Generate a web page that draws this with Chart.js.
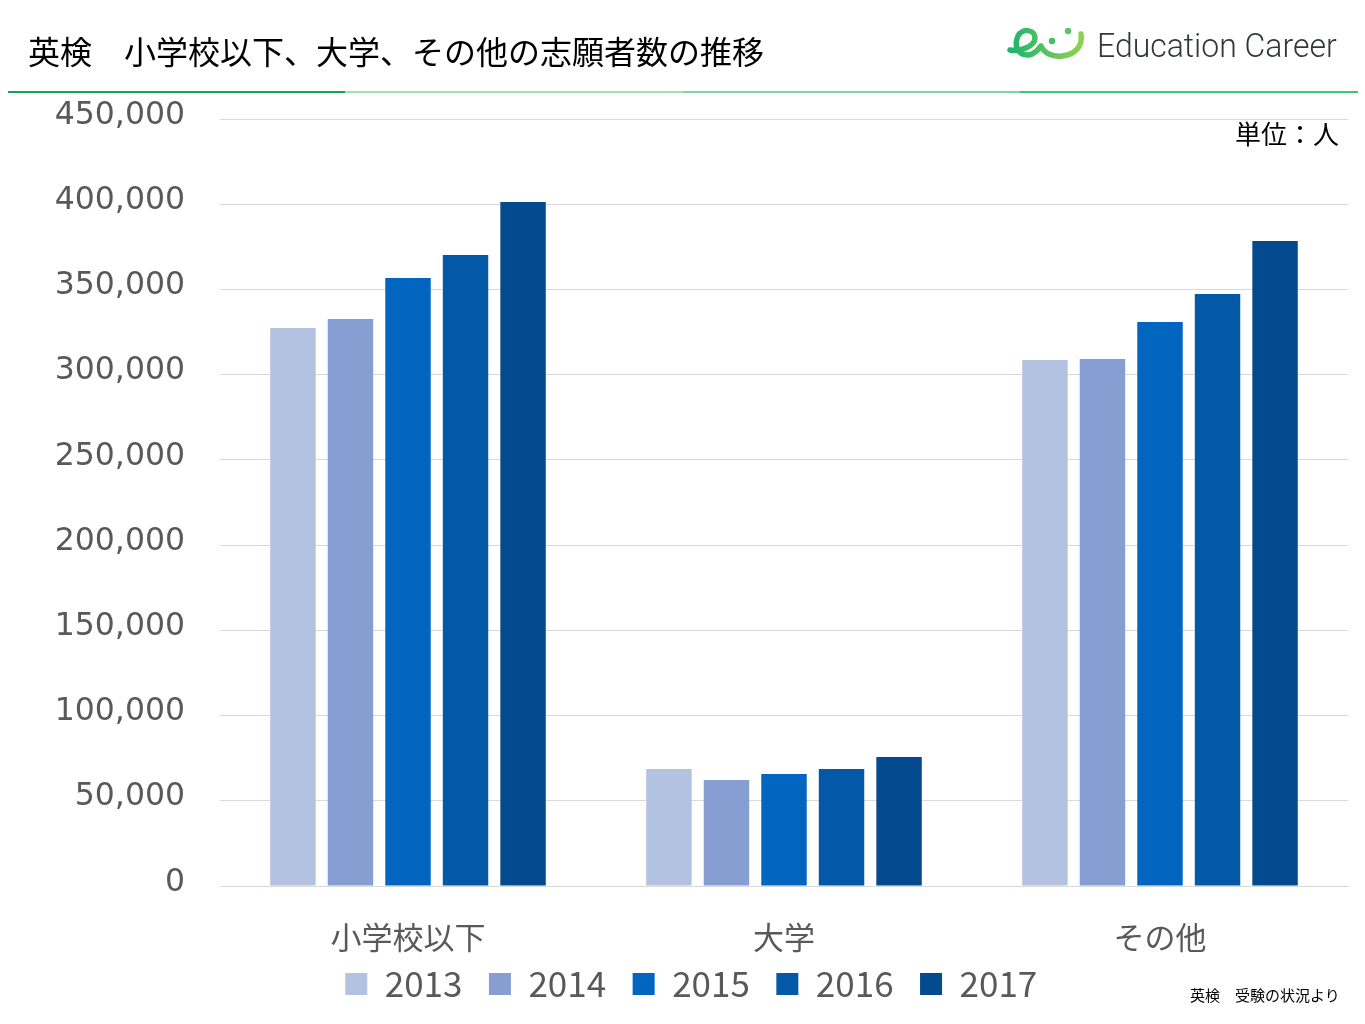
<!DOCTYPE html>
<html>
<head>
<meta charset="utf-8">
<script src="https://cdn.jsdelivr.net/npm/chart.js@4.4.1/dist/chart.umd.min.js"></script>
<style>
  html, body { margin: 0; padding: 0; background: #fff; width: 1365px; height: 1024px; overflow: hidden; position: relative; }
  #title { position: absolute; left: 28px; top: 28px; font-family: "Noto Sans CJK JP", sans-serif; font-size: 32px; color: #000; white-space: nowrap; line-height: 44px; }
  #rule { position: absolute; left: 8px; top: 91px; width: 1350px; height: 2px;
    background: linear-gradient(to right, #17a352 0%, #17a352 25%, #a3dfb9 25%, #a3dfb9 50%, #80d3a2 50%, #80d3a2 75%, #3cc877 75%, #3cc877 100%); }
  #logoText { position: absolute; left: 1097px; top: 23px; font-family: Roboto, sans-serif; font-weight: 300; font-size: 34px; color: #33363b; white-space: nowrap; line-height: 44px; transform-origin: 0 50%; transform: scaleX(0.94); }
  #logo { position: absolute; left: 1000px; top: 18px; }
  #unit { position: absolute; left: 1235px; top: 116px; font-family: "Noto Sans CJK JP", sans-serif; font-size: 26px; color: #000; white-space: nowrap; line-height: 34px; }
  #source { position: absolute; left: 1190px; top: 985px; font-family: "Noto Sans CJK JP", sans-serif; font-size: 15px; color: #000; white-space: nowrap; line-height: 20px; }
  #wrap { position: absolute; left: 0; top: 0; width: 1365px; height: 1024px; }
</style>
</head>
<body>
<div id="wrap"><canvas id="c"></canvas></div>
<div id="title">英検　小学校以下、大学、その他の志願者数の推移</div>
<div id="rule"></div>
<svg id="logo" width="90" height="50" viewBox="0 0 90 50">
  <defs>
    <linearGradient id="g" x1="0" y1="0" x2="1" y2="0">
      <stop offset="0" stop-color="#1db46f"/>
      <stop offset="1" stop-color="#8fd14f"/>
    </linearGradient>
  </defs>
  <path d="M 10 32 C 18 34, 35 29, 35 20 C 35 11, 22 10, 18 18 C 14 27, 17 37, 28 37 C 34 37, 38 32, 41 28 C 44 35, 52 39, 62 38 C 75 37, 83 28, 81 16" fill="none" stroke="url(#g)" stroke-width="5.5" stroke-linecap="round" stroke-linejoin="round"/>
  <circle cx="52" cy="23" r="3.2" fill="#45bf66"/>
  <circle cx="68" cy="13" r="3.2" fill="#5cc664"/>
</svg>
<div id="logoText">Education Career</div>
<div id="unit">単位：人</div>
<div id="source">英検　受験の状況より</div>
<script>
const categories = ["小学校以下", "大学", "その他"];
const years = ["2013", "2014", "2015", "2016", "2017"];
const values2013 = [327400, 68600, 308600];
const values2014 = [332700, 62200, 309200];
const values2015 = [356700, 65700, 330900];
const values2016 = [370200, 68600, 347300];
const values2017 = [401300, 75700, 378400];
const seriesValues = [values2013, values2014, values2015, values2016, values2017];
const seriesColors = ["#b4c2e1", "#879ed3", "#0265c0", "#0458a8", "#034a8e"];

const FONT = '"Noto Sans CJK JP", sans-serif';

const noLabelClip = {
  id: 'noLabelClip',
  afterLayout(chart) {
    const x = chart.scales.x;
    if (x && typeof x._computeLabelArea === 'function') {
      x._computeLabelArea = () => undefined;
    }
  }
};

new Chart(document.getElementById('c'), {
  type: 'bar',
  data: {
    labels: categories,
    datasets: years.map((y, i) => ({
      label: y,
      data: seriesValues[i],
      backgroundColor: seriesColors[i],
      borderWidth: 0,
      categoryPercentage: 0.765,
      barPercentage: 0.79
    }))
  },
  plugins: [noLabelClip],
  options: {
    responsive: true,
    maintainAspectRatio: false,
    animation: false,
    layout: { padding: { left: 34.5, right: 17, top: 119, bottom: 12.5 } },
    plugins: {
      tooltip: { enabled: false },
      legend: {
        position: 'bottom',
        labels: {
          font: { family: FONT, size: 35 },
          color: '#595959',
          boxWidth: 22,
          boxHeight: 22,
          padding: 26.5
        }
      }
    },
    scales: {
      x: {
        afterFit: (s) => { s.height = 54; },
        grid: { display: false, drawTicks: false },
        border: { display: true, color: '#d9d9d9' },
        ticks: { font: { family: FONT, size: 31 }, color: '#595959', padding: 33 }
      },
      y: {
        min: 0, max: 450000,
        afterFit: (s) => { s.width = 185.5; },
        grid: { color: '#d9d9d9', drawTicks: false },
        border: { display: false },
        ticks: {
          stepSize: 50000,
          padding: 35,
          labelOffset: -3.5,
          font: { family: '"DejaVu Sans", sans-serif', size: 31.5 },
          color: '#595959',
          callback: (v) => v.toLocaleString('en-US')
        }
      }
    }
  }
});
</script>
</body>
</html>
